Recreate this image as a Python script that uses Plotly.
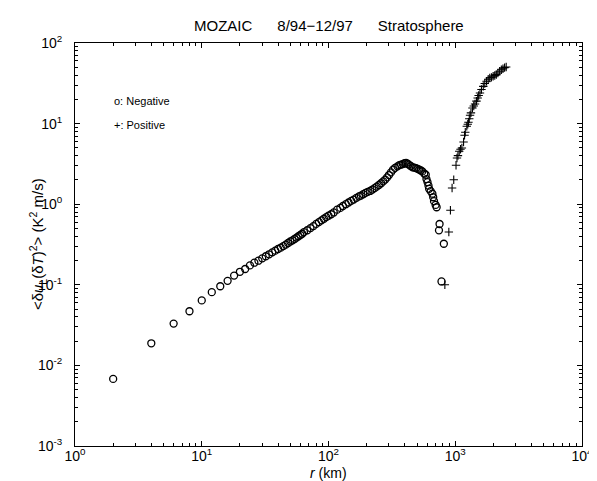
import plotly.graph_objects as go

# Negative values (plotted as |value|, open circles)
neg_r = [2, 4, 6, 8, 10, 12, 14, 16, 18, 20, 22, 24, 26, 28, 30, 32, 34, 36, 38, 40,
         42, 44, 46, 48, 50, 52, 54, 56, 58, 60, 62, 64, 68, 72, 76, 80, 84, 88, 92, 96,
         100, 105, 110, 117, 124, 130, 137, 144, 151, 158, 166, 174, 180, 188, 196, 204,
         213, 222, 231, 240, 250, 260, 270, 280, 290, 300, 311, 323, 335, 350, 362, 374,
         386, 398, 409, 420, 430, 445, 461, 475, 490, 505, 520, 535, 550, 569, 585,
         593, 604, 615, 622, 640, 660, 670, 680, 700, 713, 744, 752, 779, 813]
neg_v = [0.0068, 0.0188, 0.033, 0.047, 0.064, 0.081, 0.096, 0.112, 0.130, 0.145, 0.157,
         0.174, 0.188, 0.199, 0.213, 0.226, 0.239, 0.253, 0.265, 0.278, 0.289, 0.302,
         0.315, 0.330, 0.345, 0.356, 0.370, 0.385, 0.400, 0.415, 0.430, 0.450, 0.475,
         0.505, 0.535, 0.570, 0.600, 0.630, 0.660, 0.690, 0.720, 0.750, 0.790, 0.855,
         0.900, 0.950, 1.00, 1.05, 1.10, 1.14, 1.20, 1.25, 1.28, 1.33, 1.38, 1.42, 1.46,
         1.52, 1.58, 1.65, 1.73, 1.82, 1.92, 2.02, 2.15, 2.30, 2.48, 2.68, 2.82, 2.95,
         3.05, 3.10, 3.15, 3.22, 3.25, 3.18, 3.10, 2.98, 2.87, 2.84, 2.80, 2.74, 2.68,
         2.62, 2.55, 2.40, 2.32, 2.05, 1.88, 1.70, 1.55, 1.45, 1.35, 1.22, 1.09, 0.98,
         0.916, 0.474, 0.568, 0.110, 0.323]

# Positive values (plus signs)
pos_r = [828, 890, 916, 944, 973, 1014, 1032, 1050, 1075, 1100, 1128, 1163, 1184, 1200,
         1233, 1255, 1271, 1290, 1309, 1330, 1367, 1400, 1432, 1470, 1503, 1530, 1567,
         1610, 1664, 1710, 1766, 1820, 1872, 1930, 1990, 2050, 2110, 2170, 2239, 2310,
         2379, 2450, 2523]
pos_v = [0.100, 0.452, 0.84, 1.59, 2.01, 3.04, 3.74, 4.0, 4.53, 4.8, 4.98, 5.91, 7.16,
         7.8, 9.27, 9.8, 10.4, 11.5, 12.7, 13.6, 15.6, 16.5, 17.5, 19.0, 20.8, 22.3, 24.0,
         26.5, 29.0, 31.5, 33.5, 35.5, 36.8, 37.5, 38.6, 39.6, 40.5, 42.5, 44.6, 46.5,
         48.0, 49.5, 50.4]

x_tick_vals = [1, 10, 100, 1000, 10000]
x_tick_text = ["10<sup>0</sup>", "10<sup>1</sup>", "10<sup>2</sup>", "10<sup>3</sup>", "10<sup>4</sup>"]
y_tick_vals = [0.001, 0.01, 0.1, 1, 10, 100]
y_tick_text = ["10<sup>-3</sup>", "10<sup>-2</sup>", "10<sup>-1</sup>", "10<sup>0</sup>",
               "10<sup>1</sup>", "10<sup>2</sup>"]
x_minor_vals = [2, 3, 4, 5, 6, 7, 8, 9,
                20, 30, 40, 50, 60, 70, 80, 90,
                200, 300, 400, 500, 600, 700, 800, 900,
                2000, 3000, 4000, 5000, 6000, 7000, 8000, 9000]
y_minor_vals = [0.002, 0.003, 0.004, 0.005, 0.006, 0.007, 0.008, 0.009,
                0.02, 0.03, 0.04, 0.05, 0.06, 0.07, 0.08, 0.09,
                0.2, 0.3, 0.4, 0.5, 0.6, 0.7, 0.8, 0.9,
                2, 3, 4, 5, 6, 7, 8, 9,
                20, 30, 40, 50, 60, 70, 80, 90]

FONT = "Liberation Sans, Arial, Helvetica, sans-serif"
X_RANGE = [0, 4]
Y_RANGE = [-3, 2]

fig = go.Figure()
fig.add_trace(go.Scatter(
    x=neg_r, y=neg_v, mode="markers", name="Negative",
    marker=dict(symbol="circle-open", size=7, color="black", line=dict(width=1.3, color="black")),
))
fig.add_trace(go.Scatter(
    x=pos_r, y=pos_v, mode="markers", name="Positive",
    marker=dict(symbol="cross-thin-open", size=6, color="black", line=dict(width=1.1, color="black")),
))
# empty traces that activate the extra tick-only axes
for k in (2, 3, 4):
    fig.add_trace(go.Scatter(x=[], y=[], xaxis=f"x{k}", yaxis=f"y{k}",
                             showlegend=False, hoverinfo="skip"))

base = dict(type="log", ticks="inside", tickwidth=1, tickcolor="black",
            showgrid=False, zeroline=False)


def overlay_x(vals, side, anchor, length):
    return dict(base, range=X_RANGE, tickmode="array", tickvals=vals, ticklen=length,
                overlaying="x", side=side, anchor=anchor, showticklabels=False, showline=False)


def overlay_y(vals, side, anchor, length):
    return dict(base, range=Y_RANGE, tickmode="array", tickvals=vals, ticklen=length,
                overlaying="y", side=side, anchor=anchor, showticklabels=False, showline=False)


fig.update_layout(
    width=597, height=481,
    margin=dict(l=67, r=15, t=35, b=43),
    paper_bgcolor="white", plot_bgcolor="white",
    showlegend=False,
    font=dict(family=FONT, color="black"),
    xaxis=dict(base, range=X_RANGE, tickmode="array", tickvals=x_tick_vals, ticktext=x_tick_text,
               ticklen=5, showline=True, linecolor="black", linewidth=1, mirror=True,
               tickfont=dict(family=FONT, size=14, color="black"), ticklabelstandoff=-3),
    yaxis=dict(base, range=Y_RANGE, tickmode="array", tickvals=y_tick_vals, ticktext=y_tick_text,
               ticklen=5, showline=True, linecolor="black", linewidth=1, mirror=True,
               tickfont=dict(family=FONT, size=14, color="black"), ticklabelstandoff=9),
    xaxis2=overlay_x(x_tick_vals, "top", "y2", 5),
    yaxis2=overlay_y(y_tick_vals, "right", "x2", 5),
    xaxis3=overlay_x(x_minor_vals, "bottom", "y3", 3),
    yaxis3=overlay_y(y_minor_vals, "left", "x3", 3),
    xaxis4=overlay_x(x_minor_vals, "top", "y4", 3),
    yaxis4=overlay_y(y_minor_vals, "right", "x4", 3),
)

fig.add_annotation(text="MOZAIC      8/94\u221212/97      Stratosphere",
                   xref="paper", yref="paper", x=0.5, y=1 + 17 / 403, yanchor="middle",
                   showarrow=False, font=dict(family=FONT, size=15, color="black"))
fig.add_annotation(text="&lt;δ<i>u</i><sub>L</sub>(δ<i>T</i>)<sup>2</sup>&gt; (K<sup>2</sup> m/s)",
                   xref="paper", yref="paper", x=-38 / 515, y=0.5, textangle=-90,
                   xanchor="center", yanchor="middle",
                   showarrow=False, font=dict(family=FONT, size=15, color="black"))
fig.add_annotation(text="<i>r</i> (km)", xref="paper", yref="paper", x=0.5, y=-27 / 403,
                   yanchor="middle", showarrow=False, font=dict(family=FONT, size=14, color="black"))
fig.add_annotation(text="o: Negative", xref="paper", yref="paper", x=(105 - 67) / 515,
                   y=(438 - 93) / 403, xanchor="left", yanchor="middle",
                   showarrow=False, font=dict(family=FONT, size=11, color="black"))
fig.add_annotation(text="+: Positive", xref="paper", yref="paper", x=(105 - 67) / 515,
                   y=(438 - 117) / 403, xanchor="left", yanchor="middle",
                   showarrow=False, font=dict(family=FONT, size=11, color="black"))

fig.write_html("out.html")
